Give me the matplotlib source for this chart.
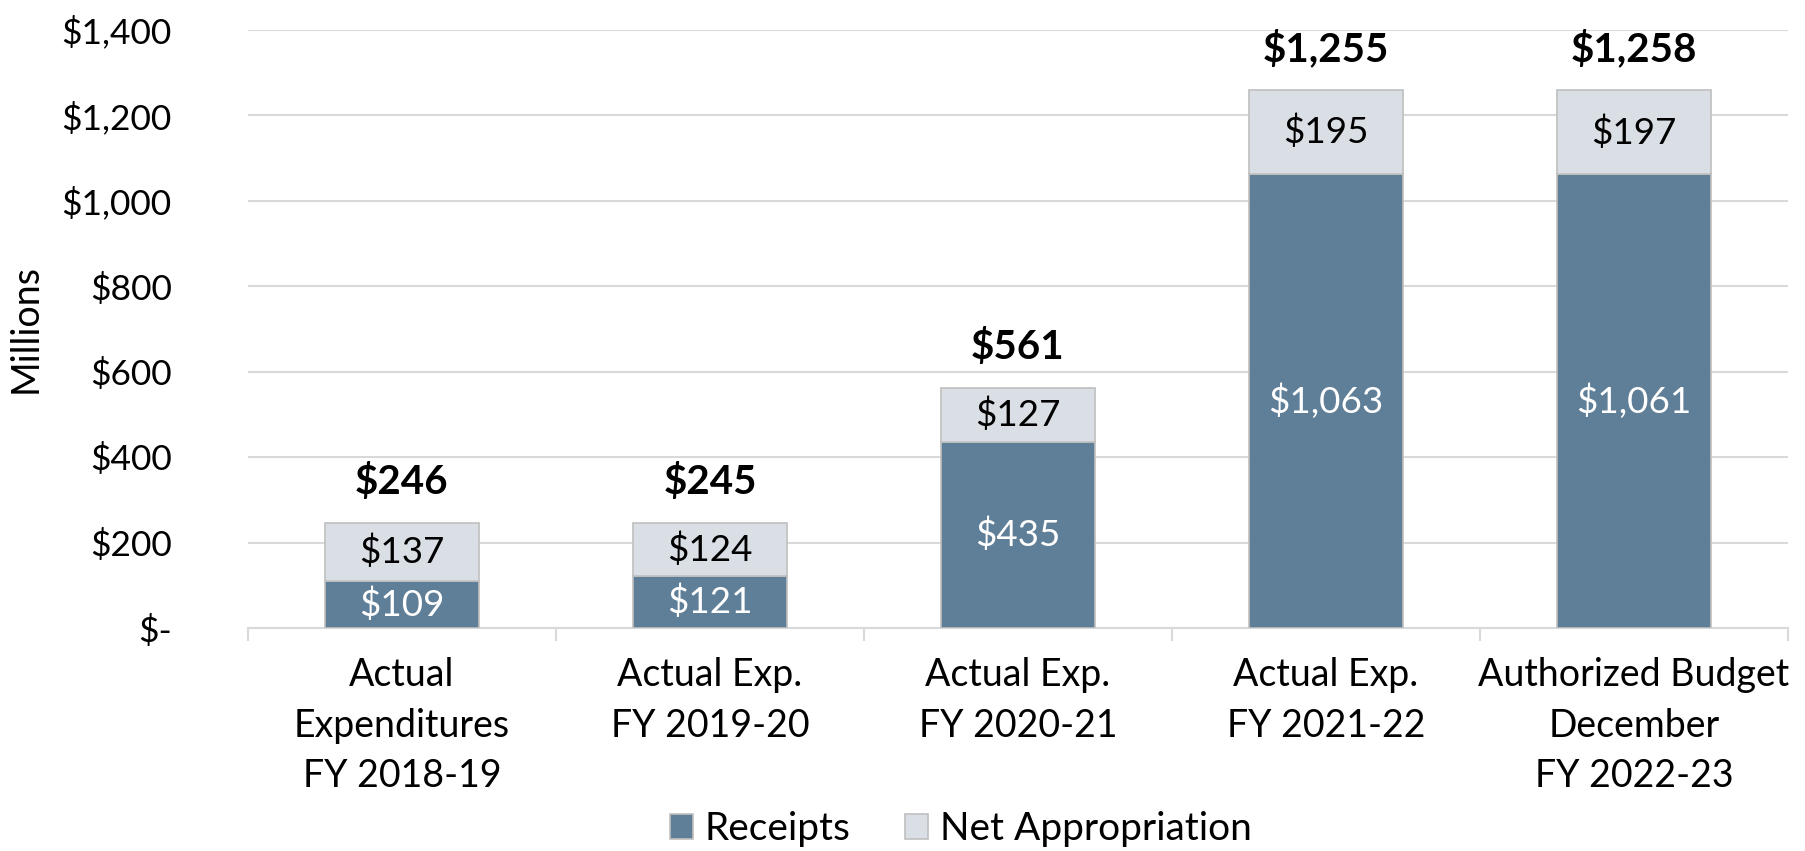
import matplotlib
matplotlib.use("Agg")
import matplotlib.pyplot as plt
import numpy as np

categories = ["Actual\nExpenditures\nFY 2018-19", "Actual Exp.\nFY 2019-20",
              "Actual Exp.\nFY 2020-21", "Actual Exp.\nFY 2021-22",
              "Authorized Budget\nDecember\nFY 2022-23"]
receipts = [109, 121, 435, 1063, 1061]
net_appropriation = [137, 124, 127, 195, 197]
totals = [246, 245, 561, 1255, 1258]
yticks = [0, 200, 400, 600, 800, 1000, 1200, 1400]
ytick_labels = ["$-", "$200", "$400", "$600", "$800", "$1,000", "$1,200", "$1,400"]

plt.rcParams['font.family'] = ['Lato', 'DejaVu Sans']

C_REC = "#5F7E97"
C_NET = "#D9DFE5"
C_EDGE = "#BFBFBF"
C_GRID = "#D9D9D9"

fig = plt.figure(figsize=(18.06, 8.51), dpi=100)
ax = fig.add_axes([248/1806, 1-628/851, (1788-248)/1806, (628-29.5)/851])

x = np.arange(len(categories))
b1 = ax.bar(x, receipts, width=0.5, color=C_REC, edgecolor=C_EDGE, linewidth=1.2, zorder=3)
b2 = ax.bar(x, net_appropriation, bottom=receipts, width=0.5, color=C_NET,
            edgecolor=C_EDGE, linewidth=1.2, zorder=3)

for i in range(len(categories)):
    ax.text(x[i], receipts[i]/2, f"${receipts[i]:,}", ha='center', va='center',
            color='white', fontsize=26.5, zorder=4)
    ax.text(x[i], receipts[i] + net_appropriation[i]/2, f"${net_appropriation[i]:,}",
            ha='center', va='center', color='black', fontsize=26.5, zorder=4)
    ax.annotate(f"${totals[i]:,}", xy=(x[i], receipts[i] + net_appropriation[i]),
                xytext=(0, 21), textcoords='offset points', ha='center', va='baseline',
                fontsize=29, fontweight='bold', color='black')

ax.set_xlim(-0.5, len(categories) - 0.5)
ax.set_ylim(0, 1400)
ax.set_yticks(yticks)
ax.set_yticklabels(ytick_labels, fontsize=25.5)
ax.tick_params(axis='y', length=0, pad=55)
ax.set_xticks(x)
ax.set_xticklabels(categories, fontsize=27, linespacing=1.5)
ax.tick_params(axis='x', which='major', length=0, pad=21)
ax.set_xticks(np.arange(-0.5, len(categories), 1.0), minor=True)
ax.tick_params(axis='x', which='minor', length=9, width=1.5, color=C_GRID)

ax.yaxis.grid(True, color=C_GRID, linewidth=1.5, zorder=0)
ax.set_axisbelow(True)
for s in ['top', 'right', 'left']:
    ax.spines[s].set_visible(False)
ax.spines['bottom'].set_color(C_GRID)
ax.spines['bottom'].set_linewidth(1.5)

ax.set_ylabel("Millions", fontsize=27)
ax.yaxis.set_label_coords((44-248)/1540, 0.5)

leg = fig.legend([b1, b2], ["Receipts", "Net Appropriation"], loc='center',
                 bbox_to_anchor=(0.532, 1-829/851), ncol=2, frameon=False, fontsize=28,
                 handlelength=0.6, handleheight=0.6, handletextpad=0.3, columnspacing=1.4)

fig.savefig("out.png", dpi=100)
